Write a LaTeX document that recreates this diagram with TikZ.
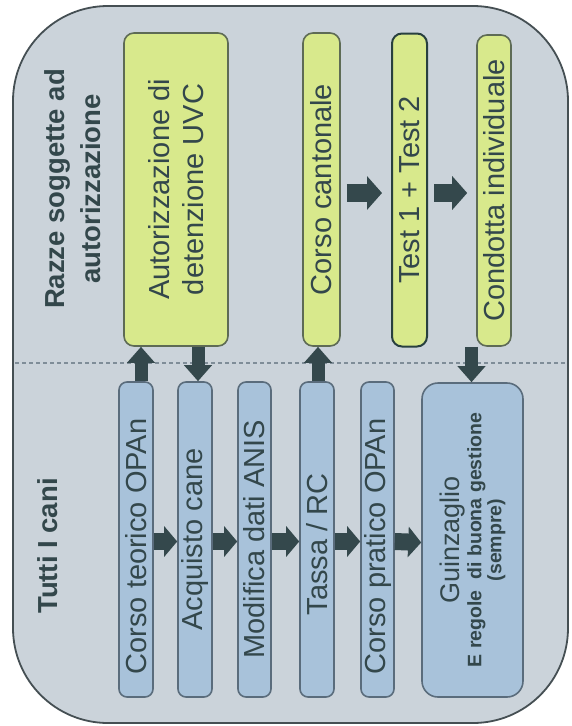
\documentclass[tikz,border=0pt]{standalone}
\usepackage{fontspec}
\setmainfont{Liberation Sans}
\usetikzlibrary{arrows.meta}
\definecolor{panelfill}{HTML}{CBD3DA}
\definecolor{panelline}{HTML}{454F53}
\definecolor{greenfill}{HTML}{D8E98C}
\definecolor{greenline}{HTML}{5E6B55}
\definecolor{testline}{HTML}{28403F}
\definecolor{bluefill}{HTML}{A8C2DA}
\definecolor{blueline}{HTML}{5A6C7C}
\definecolor{arrowcol}{HTML}{34484C}
\definecolor{textcol}{HTML}{33474B}
\definecolor{dashcol}{HTML}{7F8D98}
\begin{document}
\begin{tikzpicture}[x=1pt,y=-1pt,
  panel/.style={draw=panelline, line width=1.8pt, fill=panelfill, rounded corners=95pt},
  divider/.style={draw=dashcol, line width=1.2pt, dash pattern=on 4pt off 3pt},
  labelfont/.style={font=\fontsize{29}{34}\selectfont},
  gbox/.style={draw=greenline, line width=1.6pt, fill=greenfill, rounded corners=10pt,
    inner sep=0pt, text=textcol, labelfont},
  tbox/.style={gbox, draw=testline, line width=2pt},
  bbox/.style={draw=blueline, line width=1.6pt, fill=bluefill, rounded corners=8pt,
    inner sep=0pt, text=textcol, labelfont},
  bigbbox/.style={bbox, rounded corners=16pt},
  heading/.style={text=textcol, font=\bfseries\fontsize{27.5}{36}\selectfont, rotate=90,
    align=center, inner sep=0pt},
  varrow/.style={draw=arrowcol, line width=13pt, -{Triangle[width=27pt,length=16pt]}},
  harrow/.style={draw=arrowcol, line width=17pt, -{Triangle[width=30pt,length=13pt]}},
  tarrow/.style={draw=arrowcol, line width=18pt, -{Triangle[width=33pt,length=15pt]},
    shorten <=6pt, shorten >=9pt}
]
\useasboundingbox (0,0) rectangle (572,726);
\fill[white] (0,0) rectangle (572,726);
\path[panel] (13,6) rectangle (568,723);
\draw[divider] (15,363) -- (566,363);

% headings
\node[heading] (h1) at (73,189) {Razze soggette ad\\autorizzazione};
\node[heading] (h2) at (48,546) {Tutti I cani};

% green boxes
\node[gbox, minimum width=104pt, minimum height=313pt] (g1) at (176,189.5)
  {\rotatebox{90}{\parbox{300pt}{\centering Autorizzazione di\\detenzione UVC}}};
\node[gbox, minimum width=37pt, minimum height=313pt] (g2) at (321.5,189.5)
  {\rotatebox{90}{Corso cantonale}};
\node[tbox, minimum width=35pt, minimum height=313pt] (g3) at (409.5,190)
  {\rotatebox{90}{Test 1 + Test 2}};
\node[gbox, minimum width=34pt, minimum height=311pt] (g4) at (494,190.5)
  {\rotatebox{90}{Condotta individuale}};

% blue boxes
\node[bbox, minimum width=34pt, minimum height=315pt] (b1) at (136,539.5)
  {\rotatebox{90}{Corso teorico OPAn\hspace{14pt}}};
\node[bbox, minimum width=34pt, minimum height=315pt] (b2) at (195,539.5)
  {\rotatebox{90}{Acquisto cane}};
\node[bbox, minimum width=33pt, minimum height=315pt] (b3) at (254.5,539.5)
  {\rotatebox{90}{Modifica dati ANIS}};
\node[bbox, minimum width=34pt, minimum height=315pt] (b4) at (317,539.5)
  {\rotatebox{90}{Tassa / RC\hspace{10pt}}};
\node[bbox, minimum width=33pt, minimum height=315pt] (b5) at (377.5,539.5)
  {\rotatebox{90}{Corso pratico OPAn\hspace{14pt}}};
\node[bigbbox, minimum width=101pt, minimum height=314pt] (b6) at (472.5,540)
  {\rotatebox{90}{\parbox{295pt}{\centering
    {\fontsize{27}{27}\selectfont Guinzaglio\par}
    {\bfseries\fontsize{19.5}{22}\selectfont E regole\ \ di buona gestione\par}
    {\bfseries\fontsize{19.5}{20}\selectfont (sempre)\par}}}};

% vertical connectors
\coordinate (p1) at ([xshift=5pt]b1.north);
\coordinate (p2) at ([xshift=3pt]b2.north);
\coordinate (p3) at ([xshift=1pt]b4.north);
\coordinate (p4) at ([xshift=-1pt]b6.north);
\draw[varrow] (p1) -- (p1 |- g1.south);
\draw[varrow] (p2 |- g1.south) -- (p2);
\draw[varrow] (p3) -- (p3 |- g2.south);
\draw[varrow] (p4 |- g4.south) -- (p4);

% bottom flow
\draw[harrow] ([yshift=-2pt]b1.east) -- ([yshift=-2pt]b2.west);
\draw[harrow] ([yshift=-2pt]b2.east) -- ([yshift=-2pt]b3.west);
\draw[harrow] ([yshift=-2pt]b3.east) -- ([yshift=-2pt]b4.west);
\draw[harrow] ([yshift=-2pt]b4.east) -- ([yshift=-2pt]b5.west);
\draw[harrow] ([yshift=-2pt]b5.east) -- ([yshift=-2.5pt]b6.west);

% top flow
\draw[tarrow] ([yshift=-3.5pt]g2.east) -- ([yshift=-3pt]g3.west);
\draw[tarrow] ([yshift=-3pt]g3.east) -- ([yshift=-2.5pt]g4.west);
\end{tikzpicture}
\end{document}
